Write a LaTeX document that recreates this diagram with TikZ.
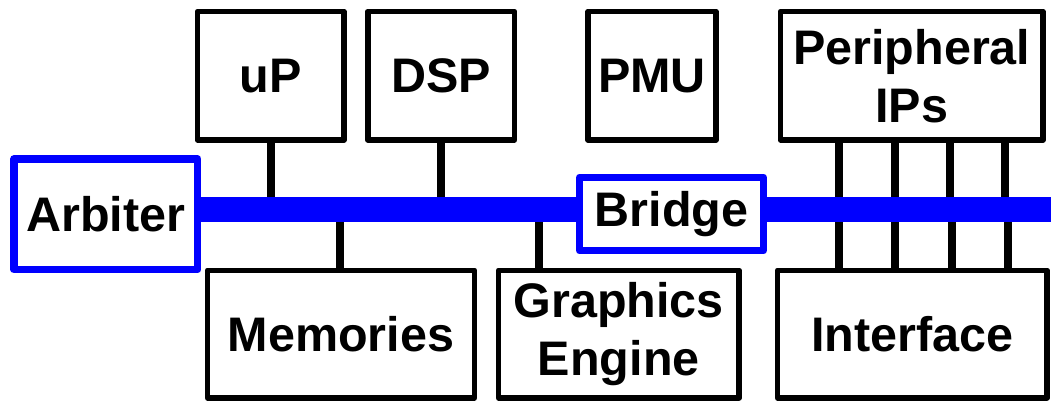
\documentclass[tikz,border=0pt]{standalone}
\usepackage{fontspec}
\setmainfont{Liberation Sans}
\usetikzlibrary{calc}
\pgfdeclarelayer{wires}
\pgfdeclarelayer{busline}
\pgfsetlayers{wires,busline,main}
\definecolor{busblue}{RGB}{0,0,255}
\tikzset{
  block/.style={draw=black, line width=5.5pt, fill=white, line join=round,
    inner sep=0pt, align=center, font=\fontsize{48.5}{58}\selectfont\bfseries},
  ctrl/.style={block, draw=busblue, line width=7.5pt},
  conn/.style={draw=black, line width=8pt},
  busbar/.style={draw=busblue, line width=25pt}
}
\begin{document}
\begin{tikzpicture}[x=1pt, y=-1pt]
\useasboundingbox (0,0) rectangle (1051,400);

% upper row
\node[block, minimum width=146.5pt, minimum height=128.5pt] (uP)  at (270.75,75.75) {uP};
\node[block, minimum width=146.7pt, minimum height=128.5pt] (DSP) at (441.15,75.75) {DSP};
\node[block, minimum width=128pt,   minimum height=128.5pt] (PMU) at (652,75.75)    {PMU};
\node[block, minimum width=262.5pt, minimum height=128.5pt] (Per) at (911.75,75.75) {Peripheral\\IPs};

% bus masters / bridge
\node[ctrl, minimum width=183.7pt, minimum height=110.5pt] (Arb) at (105.85,214.25) {Arbiter};
\node[ctrl, minimum width=183.6pt, minimum height=73.4pt]  (Brg) at (671.5,214)     {Bridge};

% lower row
\node[block, minimum width=267pt,   minimum height=127.5pt] (Mem) at (341,334)    {Memories};
\node[block, minimum width=240.5pt, minimum height=127.5pt] (Gfx) at (618.75,334) {Graphics\\Engine};
\node[block, minimum width=269.5pt, minimum height=127.5pt] (Ifc) at (912.25,334) {Interface};

\coordinate (busend) at (1051,209.2);

% system bus
\begin{pgfonlayer}{busline}
  \draw[busbar] (Arb.east |- busend) -- (busend);
\end{pgfonlayer}

% taps onto the bus
\begin{pgfonlayer}{wires}
  \draw[conn] (uP.south)  -- (uP.south |- busend);
  \draw[conn] (DSP.south) -- (DSP.south |- busend);
  \draw[conn] ([xshift=-1pt]Mem.north) -- ([xshift=-1pt]Mem.north |- busend);
  \draw[conn] ([xshift=43.5pt]Gfx.north west) -- ([xshift=43.5pt]Gfx.north west |- busend);
  \foreach \dx in {61.3,117,172,227.7}
    \draw[conn] ([xshift=\dx pt]Per.south west) -- ([xshift=\dx pt]Per.south west |- busend);
  \foreach \dx in {64.3,120,177.7,233.3}
    \draw[conn] ([xshift=\dx pt]Ifc.north west) -- ([xshift=\dx pt]Ifc.north west |- busend);
\end{pgfonlayer}
\end{tikzpicture}
\end{document}
